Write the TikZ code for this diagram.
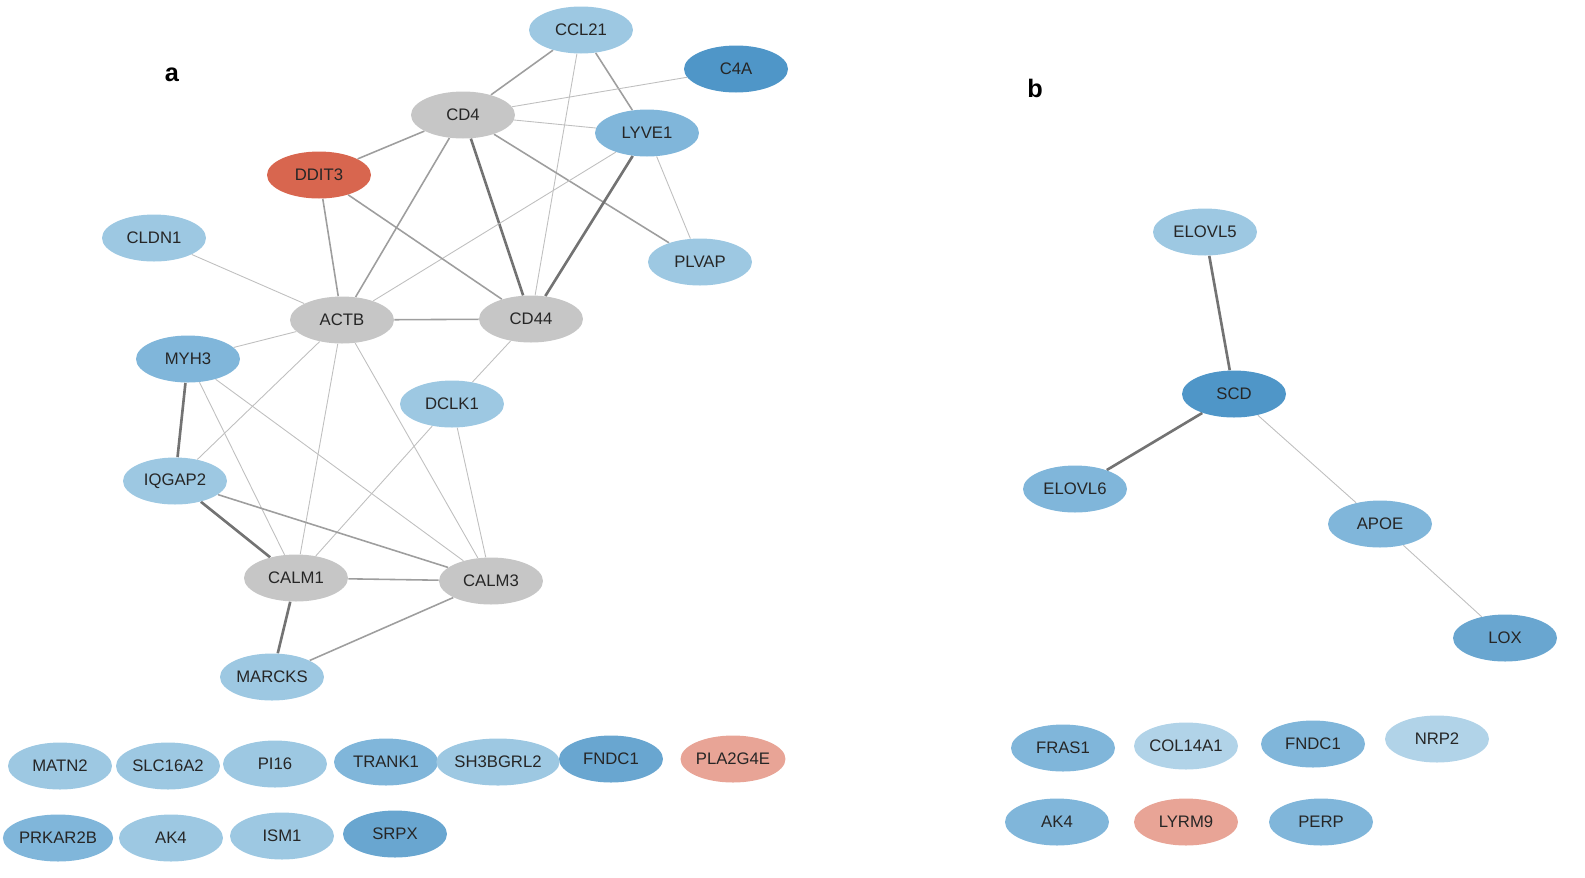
\documentclass[tikz,border=0pt]{standalone}
\usepackage{fontspec}
\setmainfont{Liberation Sans}
\usetikzlibrary{shapes.geometric,backgrounds}
\definecolor{lb}{HTML}{9DC8E2}
\definecolor{mb}{HTML}{80B6DA}
\definecolor{db}{HTML}{4F96C8}
\definecolor{gr}{HTML}{C6C6C6}
\definecolor{rd}{HTML}{D8664F}
\definecolor{pk}{HTML}{E8A496}
\begin{document}
\begin{tikzpicture}[x=0.02cm,y=-0.02cm,
 g/.style={ellipse,minimum width=2.08cm,minimum height=0.94cm,inner sep=0pt,font=\fontsize{9.5}{11}\selectfont,text=black!85},
 e1/.style={draw=black!25,line width=0.5pt},
 e2/.style={draw=black!38,line width=0.9pt},
 e3/.style={draw=black!55,line width=1.5pt}]
\useasboundingbox (0,0) rectangle (1585,877);
\node[font=\bfseries\Large] (la) at (172,75) {a};
\node[font=\bfseries\Large] (lb) at (1035,88) {b};
\begin{scope}[every node/.style={g}]
\node[fill=lb] (CCL21) at (581,30) {CCL21};
\node[fill=db] (C4A) at (736,69) {C4A};
\node[fill=gr] (CD4) at (463,115) {CD4};
\node[fill=mb] (LYVE1) at (647,133) {LYVE1};
\node[fill=rd] (DDIT3) at (319,175) {DDIT3};
\node[fill=lb] (CLDN1) at (154,238) {CLDN1};
\node[fill=lb] (PLVAP) at (700,262) {PLVAP};
\node[fill=gr] (ACTB) at (342,320) {ACTB};
\node[fill=gr] (CD44) at (531,319) {CD44};
\node[fill=mb] (MYH3) at (188,359) {MYH3};
\node[fill=lb] (DCLK1) at (452,404) {DCLK1};
\node[fill=lb] (IQGAP2) at (175,481) {IQGAP2};
\node[fill=gr] (CALM1) at (296,578) {CALM1};
\node[fill=gr] (CALM3) at (491,581) {CALM3};
\node[fill=lb] (MARCKS) at (272,677) {MARCKS};
\node[fill=lb] (MATN2) at (60,766) {MATN2};
\node[fill=lb] (SLC16A2) at (168,766) {SLC16A2};
\node[fill=lb] (PI16) at (275,764) {PI16};
\node[fill=mb] (TRANK1) at (386,762) {TRANK1};
\node[fill=lb] (SH3BGRL2) at (498,762) {SH3BGRL2};
\node[fill=db!85] (FNDC1a) at (611,759) {FNDC1};
\node[fill=pk] (PLA2G4E) at (733,759) {PLA2G4E};
\node[fill=mb] (PRKAR2B) at (58,838) {PRKAR2B};
\node[fill=lb] (AK4a) at (171,838) {AK4};
\node[fill=lb] (ISM1) at (282,836) {ISM1};
\node[fill=db!85] (SRPX) at (395,834) {SRPX};
\node[fill=lb] (ELOVL5) at (1205,232) {ELOVL5};
\node[fill=db] (SCD) at (1234,394) {SCD};
\node[fill=mb] (ELOVL6) at (1075,489) {ELOVL6};
\node[fill=mb] (APOE) at (1380,524) {APOE};
\node[fill=db!85] (LOX) at (1505,638) {LOX};
\node[fill=mb] (FRAS1) at (1063,748) {FRAS1};
\node[fill=lb!80] (COL14A1) at (1186,746) {COL14A1};
\node[fill=mb] (FNDC1b) at (1313,744) {FNDC1};
\node[fill=lb!80] (NRP2) at (1437,739) {NRP2};
\node[fill=mb] (AK4b) at (1057,822) {AK4};
\node[fill=pk] (LYRM9) at (1186,822) {LYRM9};
\node[fill=mb] (PERP) at (1321,822) {PERP};
\end{scope}
\begin{scope}[on background layer]
\draw[e2] (CCL21)--(CD4); \draw[e2] (CCL21)--(LYVE1); \draw[e1] (CCL21)--(CD44);
\draw[e1] (CD4)--(C4A); \draw[e1] (CD4)--(LYVE1); \draw[e2] (CD4)--(DDIT3);
\draw[e2] (CD4)--(ACTB); \draw[e3] (CD4)--(CD44); \draw[e2] (CD4)--(PLVAP);
\draw[e3] (LYVE1)--(CD44); \draw[e1] (LYVE1)--(PLVAP); \draw[e1] (LYVE1)--(ACTB);
\draw[e2] (DDIT3)--(ACTB); \draw[e2] (DDIT3)--(CD44); \draw[e1] (CLDN1)--(ACTB);
\draw[e2] (ACTB)--(CD44); \draw[e1] (ACTB)--(MYH3); \draw[e1] (ACTB)--(IQGAP2);
\draw[e1] (ACTB)--(CALM1); \draw[e1] (ACTB)--(CALM3); \draw[e1] (CD44)--(DCLK1);
\draw[e3] (MYH3)--(IQGAP2); \draw[e1] (MYH3)--(CALM1); \draw[e1] (MYH3)--(CALM3);
\draw[e1] (DCLK1)--(CALM1); \draw[e1] (DCLK1)--(CALM3);
\draw[e3] (IQGAP2)--(CALM1); \draw[e2] (IQGAP2)--(CALM3); \draw[e2] (CALM1)--(CALM3);
\draw[e3] (CALM1)--(MARCKS); \draw[e2] (CALM3)--(MARCKS);
\draw[e3] (ELOVL5)--(SCD); \draw[e3] (SCD)--(ELOVL6); \draw[e1] (SCD)--(APOE); \draw[e1] (APOE)--(LOX);
\end{scope}
\end{tikzpicture}
\end{document}
